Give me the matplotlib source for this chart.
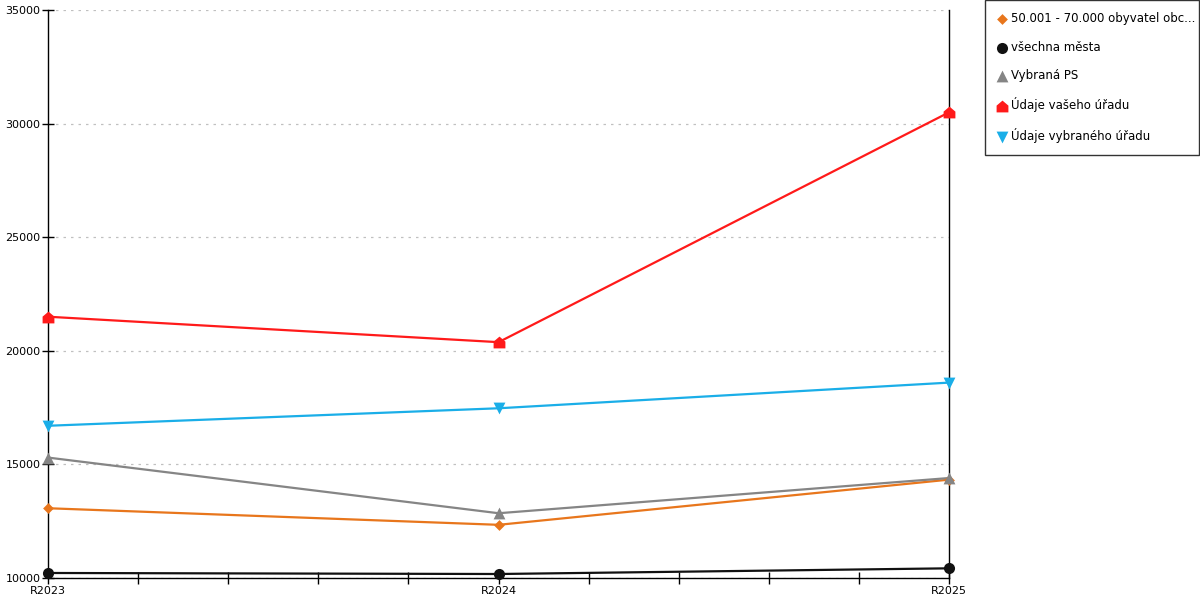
"""Line chart: yearly values for five office groups, R2023-R2025."""

import matplotlib
matplotlib.use("Agg")
import matplotlib.pyplot as plt
import numpy as np
from matplotlib.path import Path
from matplotlib.ticker import MultipleLocator

# Data
years = ["R2023", "R2024", "R2025"]
obce_50_70 = [13070, 12340, 14330]
vsechna_mesta = [10220, 10175, 10425]
vybrana_ps = [15300, 12850, 14400]
vas_urad = [21500, 20380, 30500]
vybrany_urad = [16700, 17470, 18600]

labels = [
    "50.001 - 70.000 obyvatel obc...",
    "všechna města",
    "Vybraná PS",
    "Údaje vašeho úřadu",
    "Údaje vybraného úřadu",
]

# "house" marker for the red series
house = Path([(-1, -1), (1, -1), (1, 0.15), (0, 1), (-1, 0.15), (-1, -1)],
             [Path.MOVETO] + [Path.LINETO] * 4 + [Path.CLOSEPOLY])

series = [
    (obce_50_70, "#e8761c", "D", 5.5),
    (vsechna_mesta, "#111111", "o", 8),
    (vybrana_ps, "#858585", "^", 8.5),
    (vas_urad, "#ff1a1a", house, 8.5),
    (vybrany_urad, "#1aaee8", "v", 8.5),
]

plt.rcParams["font.family"] = ["DejaVu Sans"]

fig = plt.figure(figsize=(12, 6), dpi=100)
ax = fig.add_axes([0.04, 0.0367, 0.751, 0.9466])

x = np.arange(len(years))
handles = []
for (vals, color, marker, ms), label in zip(series, labels):
    ax.plot(x, vals, color=color, linewidth=1.6, zorder=2, clip_on=False)
    h = ax.scatter(x, vals, marker=marker, s=ms ** 2, color=color,
                   zorder=3, label=label, linewidths=0, clip_on=False)
    handles.append(h)

ax.set_xlim(0, 2)
ax.set_ylim(10000, 35000)
ax.set_xticks(x)
ax.set_xticklabels(years)
ax.xaxis.set_minor_locator(MultipleLocator(0.2))
ax.yaxis.set_major_locator(MultipleLocator(5000))

ax.tick_params(axis="both", which="both", direction="inout", length=9,
               width=1, labelsize=8, color="black")
ax.tick_params(axis="x", pad=1)
ax.tick_params(axis="y", pad=1)

ax.grid(True, axis="y", linestyle=(0, (2, 4)), color="#c0c0c0", linewidth=0.9)
ax.set_axisbelow(True)

ax.spines["top"].set_visible(False)
for side in ["left", "bottom", "right"]:
    ax.spines[side].set_color("black")
    ax.spines[side].set_linewidth(1)

leg = fig.legend(handles=handles, loc="upper left",
                 bbox_to_anchor=(0.821, 0.74, 0.178, 0.26), mode="expand",
                 frameon=True, fontsize=8.5,
                 handlelength=0.7, handletextpad=0.45, labelspacing=1.3,
                 borderpad=1.05, borderaxespad=0, markerscale=1.0)
leg.get_frame().set_edgecolor("black")
leg.get_frame().set_linewidth(1)
leg.get_frame().set_boxstyle("square", pad=0)

fig.savefig("out.png", dpi=100)
plt.close(fig)
